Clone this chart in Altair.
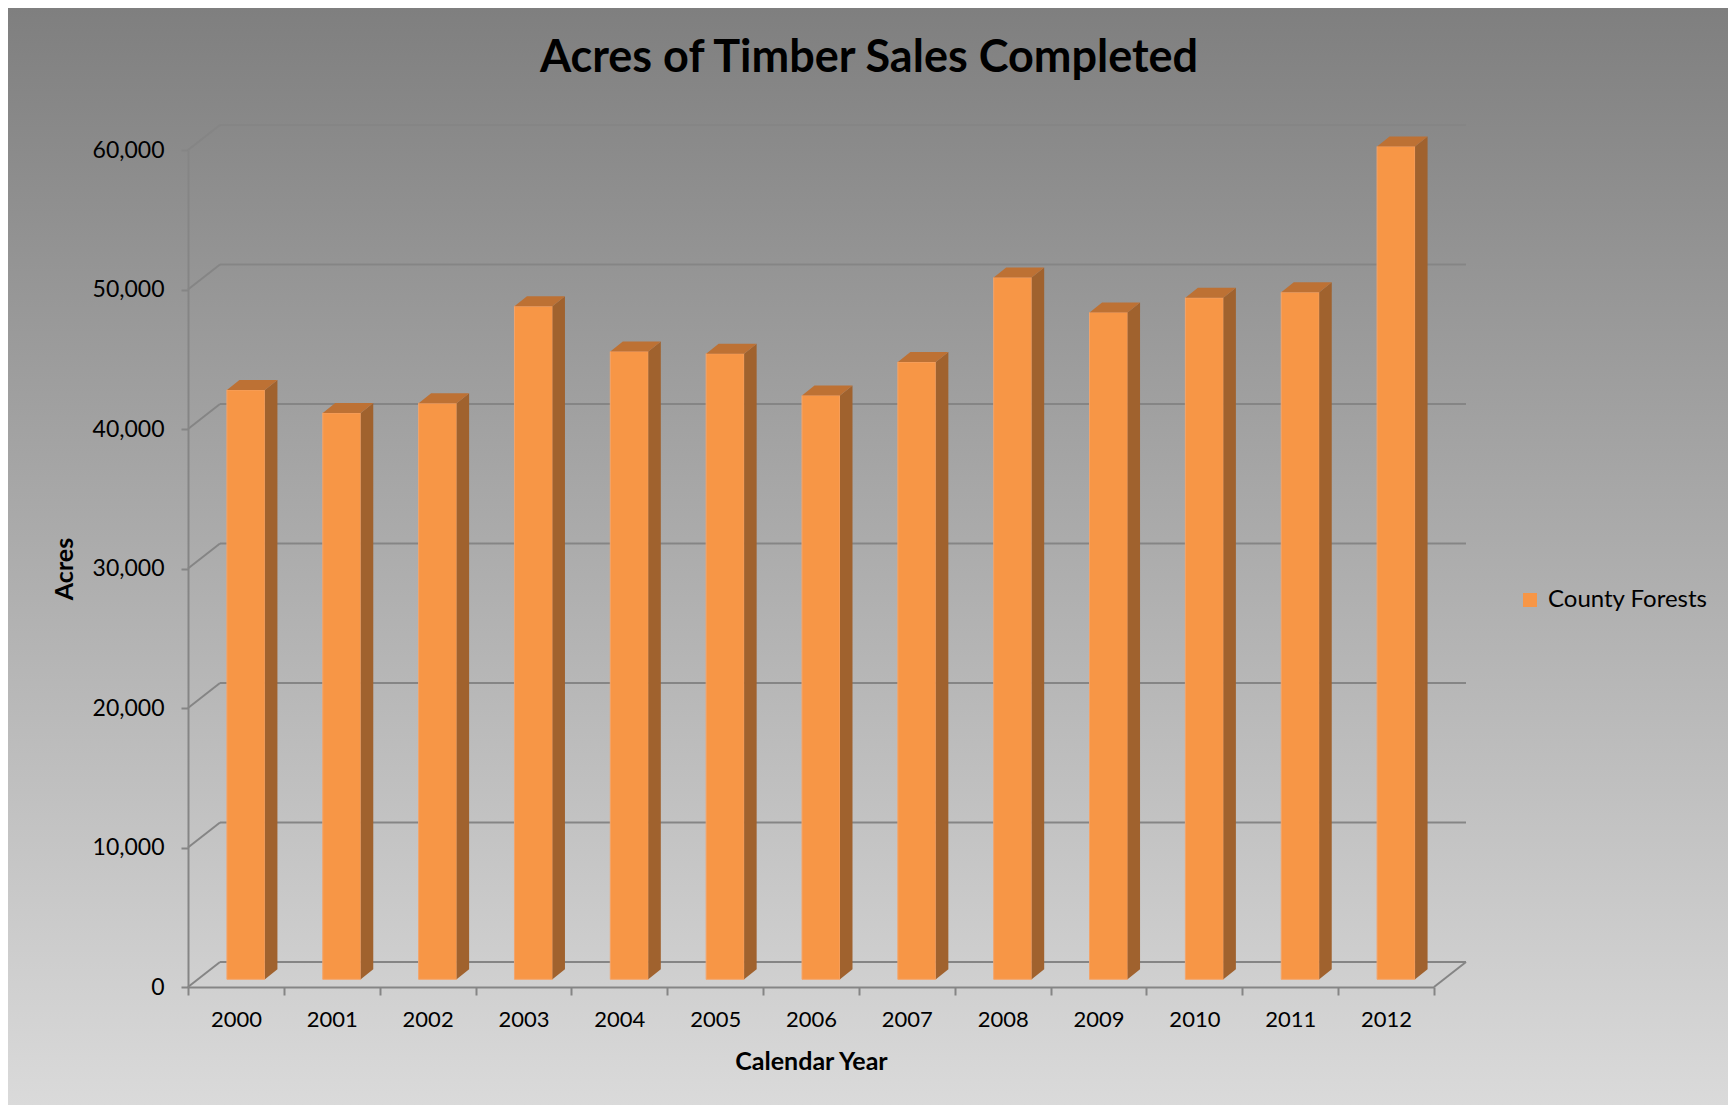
import altair as alt
import pandas as pd

# ---------------- data ----------------
years = ["2000", "2001", "2002", "2003", "2004", "2005", "2006",
         "2007", "2008", "2009", "2010", "2011", "2012"]
acres = [42250, 40600, 41300, 48250, 45000, 44850, 41850,
         44250, 50300, 47800, 48850, 49250, 59700]
gridline_values = [0, 10000, 20000, 30000, 40000, 50000, 60000]
series_name = "County Forests"
title_text = "Acres of Timber Sales Completed"
x_title = "Calendar Year"
y_title = "Acres"

# ---------------- layout / style ----------------
W, H = 1720, 1097
X_RANGE = [180, 1426]
Y_RANGE = [979, 142]
Y_MAX = 60000
n = len(years)
px_x = (X_RANGE[1] - X_RANGE[0]) / n
px_y = (Y_RANGE[0] - Y_RANGE[1]) / Y_MAX

WALL_DX, WALL_DY = 32, 25        # depth of the back wall (px)
SX, SY = 10, 7.7                 # bar front face shift (px)
BAR_W = 38                       # bar width (px)
BAR_DX, BAR_DY = 12.5, 10        # bar depth (px)

hw = BAR_W / 2 / px_x
bdx = BAR_DX / px_x
bdy = BAR_DY / px_y

GRID = "#858585"
FRONT = "#f79646"
SIDE = "#a0622e"
TOP = "#bd7134"
FONT = "Lato"

xq = alt.Scale(domain=[-0.5, n - 0.5], range=X_RANGE, nice=False, zero=False, padding=0)
yq = alt.Scale(domain=[0, Y_MAX], range=Y_RANGE, nice=False, zero=True, padding=0)

# one shared y axis definition (identical in every layer so that they merge into one)
Y_AXIS = alt.Axis(
    orient="left", offset=-X_RANGE[0], values=gridline_values,
    labelExpr="format(datum.value, ',')",
    grid=False, domainColor=GRID, domainWidth=2, zindex=2,
    tickColor=GRID, tickWidth=2, tickSize=7,
    labelFont=FONT, labelFontSize=23, labelColor="black", labelPadding=17,
    title=y_title, titleFont=FONT, titleFontSize=25, titleFontWeight="bold",
    titleColor="black", titleX=-124, titleBaseline="middle",
)

# ---------------- tables ----------------
bg_df = pd.DataFrame({"a": [0]})
title_df = pd.DataFrame({"t": [title_text]})
grid_df = pd.DataFrame({"v": gridline_values, "x0": -0.5, "x1": n - 0.5})
bars_df = pd.DataFrame({
    "year": years,
    "idx": list(range(n)),
    "acres": acres,
    "series": series_name,
    "zero": 0,
})
bars_df["x0"] = bars_df["idx"] - hw
bars_df["x1"] = bars_df["idx"] + hw

side_rows, top_rows = [], []
for i, (yr, v) in enumerate(zip(years, acres)):
    side_rows.append({"year": yr, "xs": i + hw, "ytop": v, "ybot": 0})
    side_rows.append({"year": yr, "xs": i + hw + bdx, "ytop": v + bdy, "ybot": bdy})
    top_rows.append({"year": yr, "yt": v, "xa": i - hw, "xb": i + hw})
    top_rows.append({"year": yr, "yt": v + bdy, "xa": i - hw + bdx, "xb": i + hw + bdx})
side_df = pd.DataFrame(side_rows)
top_df = pd.DataFrame(top_rows)

# ---------------- layers ----------------
background = alt.Chart(bg_df).mark_rect(
    fill=alt.LinearGradient(
        gradient="linear",
        stops=[alt.GradientStop(color="#7f7f7f", offset=0),
               alt.GradientStop(color="#dadada", offset=1)],
        x1=0, x2=0, y1=0, y2=1,
    )
).encode(x=alt.value(0), x2=alt.value(W), y=alt.value(0), y2=alt.value(H))

title = alt.Chart(title_df).mark_text(
    font=FONT, fontSize=45, fontWeight="bold", color="black",
    align="center", baseline="alphabetic",
).encode(text="t:N", x=alt.value(861), y=alt.value(64))

back_grid = alt.Chart(grid_df).mark_rule(
    color=GRID, strokeWidth=2,
    xOffset=WALL_DX, x2Offset=WALL_DX, yOffset=-WALL_DY, y2Offset=-WALL_DY,
).encode(
    x=alt.X("x0:Q", scale=xq, axis=None),
    x2="x1:Q",
    y=alt.Y("v:Q", scale=yq, axis=Y_AXIS),
)

side_wall = alt.Chart(grid_df).mark_rule(
    color=GRID, strokeWidth=2, x2Offset=WALL_DX, y2Offset=-WALL_DY,
).encode(
    x=alt.X("x0:Q", scale=xq, axis=None),
    x2="x0:Q",
    y=alt.Y("v:Q", scale=yq, axis=Y_AXIS),
    y2="v:Q",
)

floor_right = alt.Chart(grid_df[grid_df["v"] == 0]).mark_rule(
    color=GRID, strokeWidth=2, x2Offset=WALL_DX, y2Offset=-WALL_DY,
).encode(
    x=alt.X("x1:Q", scale=xq, axis=None),
    x2="x1:Q",
    y=alt.Y("v:Q", scale=yq, axis=Y_AXIS),
    y2="v:Q",
)

front = alt.Chart(bars_df).mark_rect(
    xOffset=SX, x2Offset=SX, yOffset=-SY, y2Offset=-SY,
    stroke="#f4a46a", strokeWidth=1,
).encode(
    x=alt.X("x0:Q", scale=xq, axis=None),
    x2="x1:Q",
    y=alt.Y("acres:Q", scale=yq, axis=Y_AXIS),
    y2="zero:Q",
    color=alt.Color("series:N", scale=alt.Scale(domain=[series_name], range=[FRONT]),
                    legend=alt.Legend(
                        orient="none", legendX=1510, legendY=580, title=None,
                        symbolType="square", symbolSize=196, symbolStrokeWidth=0,
                        symbolOpacity=1,
                        labelFont=FONT, labelFontSize=24, labelColor="black",
                        labelOffset=6)),
)

side = alt.Chart(side_df).mark_area(
    color=SIDE, xOffset=SX, yOffset=-SY, y2Offset=-SY, opacity=1,
).encode(
    x=alt.X("xs:Q", scale=xq, axis=None),
    y=alt.Y("ytop:Q", scale=yq, axis=Y_AXIS, stack=None),
    y2="ybot:Q",
    detail="year:N",
)

top = alt.Chart(top_df).mark_area(
    orient="horizontal", color=TOP, xOffset=SX, x2Offset=SX, yOffset=-SY, opacity=1,
).encode(
    y=alt.Y("yt:Q", scale=yq, axis=Y_AXIS),
    x=alt.X("xa:Q", scale=xq, axis=None, stack=None),
    x2="xb:Q",
    detail="year:N",
)

x_axis_layer = alt.Chart(bars_df).mark_point(opacity=0).encode(
    x=alt.X("year:O", scale=alt.Scale(type="band", domain=years, range=X_RANGE,
                                      paddingInner=0, paddingOuter=0),
            axis=alt.Axis(
                orient="bottom", offset=-(H - Y_RANGE[0]), tickBand="extent", zindex=2,
                domainColor=GRID, domainWidth=2, tickColor=GRID, tickWidth=2, tickSize=8,
                labelAngle=0, labelFont=FONT, labelFontSize=22, labelColor="black",
                labelPadding=14,
                title=x_title, titleFont=FONT, titleFontSize=25, titleFontWeight="bold",
                titleColor="black", titleY=74, titleBaseline="middle",
            )),
    y=alt.Y("zero:Q", scale=yq, axis=Y_AXIS),
)

chart = alt.layer(
    background, title, back_grid, side_wall, floor_right, front, side, top, x_axis_layer,
).resolve_scale(x="independent").properties(
    width=W, height=H,
    autosize=alt.AutoSizeParams(type="none"),
    padding=0,
).configure_view(stroke=None)

chart.save("out.html", embed_options={"renderer": "svg", "actions": False})
